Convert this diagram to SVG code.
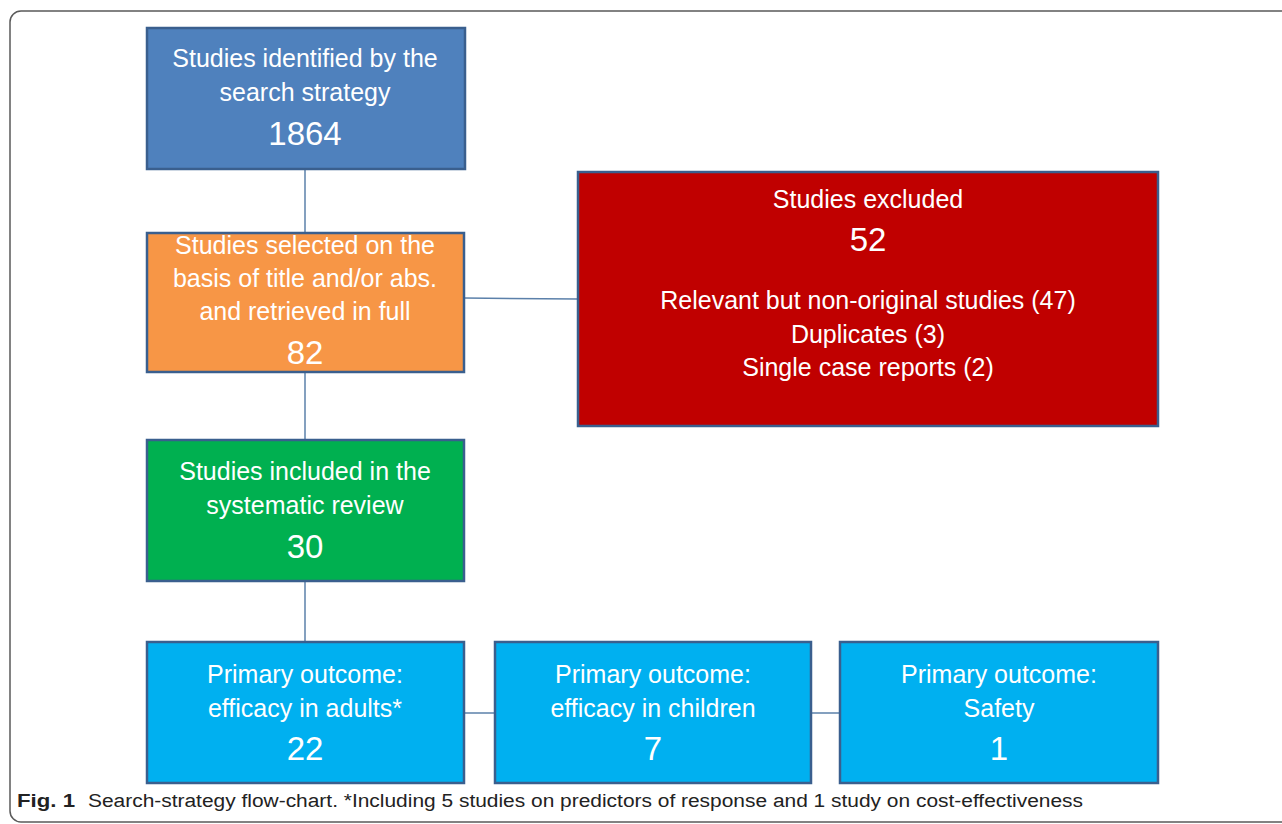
<svg xmlns="http://www.w3.org/2000/svg" width="1282" height="824" viewBox="0 0 1282 824">
<style>
.box{stroke:#3A5F8E;stroke-width:2.5}
.t{font-family:"Liberation Sans",Arial,sans-serif;fill:#fff;font-size:25px;text-anchor:middle}
.n{font-family:"Liberation Sans",Arial,sans-serif;fill:#fff;font-size:33px;text-anchor:middle}
.c{stroke:#5B80AA;stroke-width:1.5;fill:none}
.cap{font-family:"Liberation Sans",Arial,sans-serif;fill:#222;font-size:18px}
</style>
<rect x="0" y="0" width="1282" height="824" fill="#fff"/>
<rect x="10" y="11" width="1300" height="811" rx="11" fill="none" stroke="#5a5a5a" stroke-width="1.5"/>
<g id="connectors">
<line class="c" x1="305" y1="169" x2="305" y2="233"/>
<line class="c" x1="464" y1="298" x2="578" y2="299"/>
<line class="c" x1="305" y1="372" x2="305" y2="440"/>
<line class="c" x1="305" y1="581" x2="305" y2="642"/>
<line class="c" x1="464" y1="713" x2="495" y2="713"/>
<line class="c" x1="811" y1="713" x2="840" y2="713"/>
</g>
<g id="identified">
<rect class="box" x="147" y="28" width="318" height="141" fill="#4F81BD"/>
<text class="t" x="305" y="67">Studies identified by the</text>
<text class="t" x="305" y="101">search strategy</text>
<text class="n" x="305" y="145">1864</text>
</g>
<g id="selected">
<rect class="box" x="147" y="233" width="317" height="139" fill="#F79646"/>
<text class="t" x="305" y="254">Studies selected on the</text>
<text class="t" x="305" y="287">basis of title and/or abs.</text>
<text class="t" x="305" y="320">and retrieved in full</text>
<text class="n" x="305" y="364">82</text>
</g>
<g id="excluded">
<rect class="box" x="578" y="172" width="580" height="254" fill="#C00000"/>
<text class="t" x="868" y="208">Studies excluded</text>
<text class="n" x="868" y="251">52</text>
<text class="t" x="868" y="309">Relevant but non-original studies (47)</text>
<text class="t" x="868" y="343">Duplicates (3)</text>
<text class="t" x="868" y="376">Single case reports (2)</text>
</g>
<g id="included">
<rect class="box" x="147" y="440" width="317" height="141" fill="#00B050"/>
<text class="t" x="305" y="480">Studies included in the</text>
<text class="t" x="305" y="514">systematic review</text>
<text class="n" x="305" y="558">30</text>
</g>
<g id="adults">
<rect class="box" x="147" y="642" width="317" height="141" fill="#00B0F0"/>
<text class="t" x="305" y="683">Primary outcome:</text>
<text class="t" x="305" y="717">efficacy in adults*</text>
<text class="n" x="305" y="760">22</text>
</g>
<g id="children">
<rect class="box" x="495" y="642" width="316" height="141" fill="#00B0F0"/>
<text class="t" x="653" y="683">Primary outcome:</text>
<text class="t" x="653" y="717">efficacy in children</text>
<text class="n" x="653" y="760">7</text>
</g>
<g id="safety">
<rect class="box" x="840" y="642" width="318" height="141" fill="#00B0F0"/>
<text class="t" x="999" y="683">Primary outcome:</text>
<text class="t" x="999" y="717">Safety</text>
<text class="n" x="999" y="760">1</text>
</g>
<g id="caption">
<text class="cap" x="17" y="807" font-weight="bold" textLength="58" lengthAdjust="spacingAndGlyphs">Fig. 1</text>
<text class="cap" x="88" y="807" textLength="995" lengthAdjust="spacingAndGlyphs">Search-strategy flow-chart. *Including 5 studies on predictors of response and 1 study on cost-effectiveness</text>
</g>
</svg>
